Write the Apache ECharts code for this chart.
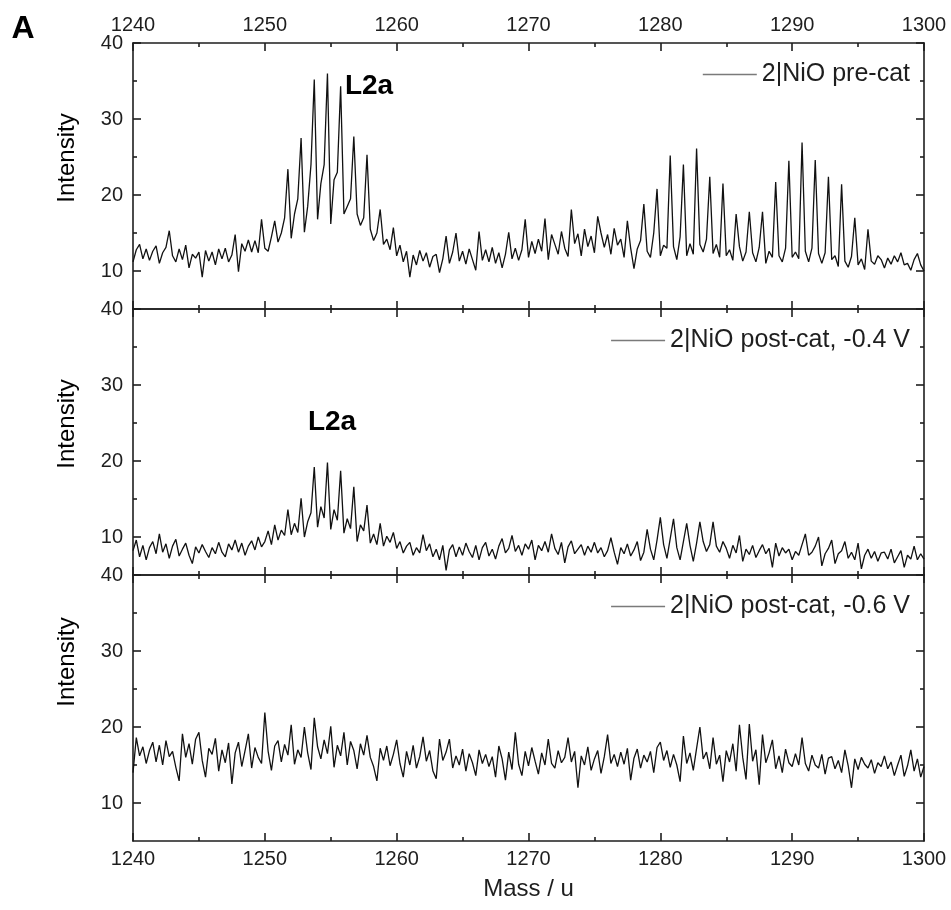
<!DOCTYPE html>
<html><head><meta charset="utf-8">
<script src="https://cdn.jsdelivr.net/npm/echarts@6/dist/echarts.min.js"></script>
<style>html,body{margin:0;padding:0;background:#fff}#chart{width:951px;height:910px}</style>
</head><body><div id="chart"></div>
<script>
// ---- data ----
const MASS_START = 1240;
const MASS_STEP = 0.25;
const MASS_MIN = 1240, MASS_MAX = 1300, MASS_TICK = 10;
const INT_MIN = 5, INT_MAX = 40;
const yMajorTicks = [10, 20, 30, 40];
const yMinorTicks = [15, 25, 35];
const seriesNames = ['2|NiO pre-cat', '2|NiO post-cat, -0.4 V', '2|NiO post-cat, -0.6 V'];
const peakLabel = 'L2a';

const preCat = [
11.2,12.8,13.5,11.6, 12.9,11.4,12.6,13.3, 11.0,12.4,13.1,15.3, 12.0,11.2,12.9,11.5,
13.4,10.4,12.2,11.7, 12.5,9.2,12.7,11.3, 12.5,10.8,12.9,11.6, 13.0,11.2,12.1,14.8,
9.9,13.6,12.6,14.1, 12.5,14.0,12.4,16.8, 13.0,12.6,14.5,16.6, 13.8,15.0,17.0,23.4,
14.3,17.5,19.5,27.5, 15.1,18.5,24.0,35.2, 16.8,21.5,24.0,36.0, 16.2,22.0,23.0,34.3,
17.5,18.5,19.5,27.7, 17.5,16.0,17.0,25.3, 15.5,14.0,15.0,18.1, 13.5,14.2,12.8,15.7,
12.0,13.4,11.2,12.6, 9.2,12.1,10.8,12.7, 11.3,12.4,10.5,11.9, 12.2,9.8,11.6,14.6,
11.0,12.5,15.0,11.3, 12.6,10.9,12.9,11.5, 10.1,15.2,11.4,12.8, 11.2,13.1,11.0,12.4,
10.4,12.2,15.1,11.6, 13.0,11.4,12.8,16.8, 11.8,13.9,12.3,14.2, 12.6,16.9,11.5,14.8,
13.5,12.2,15.2,13.0, 11.9,18.1,13.6,14.9, 12.0,15.5,13.2,14.6, 12.4,17.2,15.0,13.1,
14.8,12.2,15.6,13.4, 14.2,11.8,16.6,13.0, 10.3,12.9,14.0,18.8, 12.6,11.8,15.0,20.8,
12.0,13.4,13.0,25.2, 13.2,11.5,14.5,24.0, 12.0,13.6,12.2,26.1, 13.5,12.5,14.2,22.4,
12.3,13.5,11.8,21.5, 12.0,12.8,11.4,17.5, 13.2,11.3,12.5,17.8, 12.4,11.2,13.1,17.8,
11.0,12.6,11.8,21.7, 12.0,11.2,13.0,24.5, 11.8,12.5,11.6,26.9, 12.6,11.2,13.0,24.6,
12.3,11.0,12.4,22.4, 11.5,12.0,10.6,21.4, 11.3,10.5,11.9,17.0, 10.8,11.6,10.2,15.5,
11.3,10.9,12.0,11.5, 10.4,11.7,10.9,12.0, 11.2,12.4,10.8,11.0, 10.1,11.5,12.3,10.8,
10.0
];

const postCat04 = [
8.2,9.6,7.4,8.9, 7.0,8.6,9.4,7.8, 10.4,8.0,9.1,7.2, 8.8,9.7,7.5,8.4,
9.2,7.6,6.5,8.7, 7.9,9.0,8.1,7.3, 8.6,7.8,9.3,8.0, 7.4,9.1,8.3,9.6,
8.0,9.2,7.6,8.8, 9.5,8.3,10.0,8.7, 9.4,10.8,9.0,11.6, 9.6,10.9,10.2,13.6,
10.3,11.8,10.6,15.1, 10.0,12.0,13.2,19.2, 11.3,14.0,12.5,19.8, 11.0,13.6,12.2,18.7,
10.5,12.4,11.1,16.6, 9.4,11.6,10.8,14.2, 9.2,10.4,9.0,11.8, 8.8,10.1,9.3,10.6,
8.5,9.4,7.9,8.8, 9.3,7.6,8.6,7.9, 10.3,8.2,9.1,7.4, 8.4,7.0,8.9,5.6,
8.3,9.0,7.4,8.7, 7.6,9.2,8.1,7.3, 8.9,7.0,8.6,9.3, 7.5,8.4,7.1,8.8,
9.8,7.9,8.5,10.2, 8.1,8.9,7.6,9.1, 8.4,9.6,7.0,8.9, 8.2,9.4,8.0,10.4,
8.5,7.7,9.3,6.6, 8.7,9.5,7.8,8.4, 9.0,7.6,8.8,8.0, 9.3,7.9,8.6,7.4,
8.2,9.9,8.0,6.4, 8.6,7.8,9.1,7.5, 8.3,9.4,6.9,8.0, 11.0,8.4,7.0,9.6,
12.6,9.0,7.2,9.8, 12.4,8.6,7.0,9.4, 11.8,8.9,6.8,9.2, 12.0,9.4,8.1,9.0,
12.0,8.8,8.0,9.4, 8.5,7.2,8.9,7.9, 10.2,6.8,8.4,7.7, 8.9,7.3,8.2,9.0,
7.8,8.5,6.0,9.2, 7.5,8.6,7.9,8.4, 7.0,8.1,7.6,9.0, 10.4,7.6,8.0,8.8,
10.0,6.2,7.8,8.5, 9.6,6.5,7.8,8.2, 9.4,7.2,8.0,7.0, 9.2,5.8,7.6,8.4,
7.2,8.1,6.8,7.9, 8.0,7.1,8.4,6.6, 7.4,8.2,6.0,7.6, 7.1,8.8,7.0,7.8,
7.1
];

const postCat06 = [
14.0,18.6,16.2,17.4, 15.2,16.9,18.0,15.4, 17.6,15.0,18.2,16.1, 16.8,14.7,12.9,19.1,
16.0,17.8,15.1,18.4, 19.3,15.6,13.4,17.2, 16.4,18.5,14.2,17.0, 15.3,17.9,12.5,16.6,
18.0,14.8,16.9,19.1, 14.6,17.3,16.0,15.2, 21.9,16.8,14.3,17.5, 18.2,15.4,17.7,16.3,
20.3,15.1,17.0,16.0, 20.0,16.6,14.4,21.2, 17.4,15.8,18.3,16.5, 20.1,14.7,17.6,16.2,
19.3,15.0,18.1,16.9, 14.5,17.8,16.3,18.9, 16.0,14.8,12.9,17.2, 15.6,17.5,14.9,16.4,
18.3,15.2,13.4,16.8, 15.0,17.6,14.6,16.1, 18.7,15.5,16.9,14.2, 13.2,18.4,15.6,16.7,
18.4,14.6,16.2,15.0, 17.1,14.2,16.5,15.3, 13.6,17.0,15.2,16.4, 14.8,16.1,13.4,17.5,
15.8,13.0,16.7,14.4, 19.3,15.1,13.6,16.8, 14.9,17.3,15.5,13.8, 16.6,15.0,18.4,15.2,
14.6,16.9,15.3,16.0, 18.6,15.4,16.8,12.0, 16.2,15.0,17.4,14.3, 15.8,16.9,13.9,16.1,
19.0,15.2,16.4,14.8, 16.7,15.1,17.2,13.0, 15.9,17.1,14.6,16.3, 15.4,16.8,14.0,17.3,
18.0,15.6,16.9,14.7, 16.4,15.0,12.8,18.8, 15.2,16.6,14.3,17.2, 20.0,15.8,16.7,14.5,
18.6,15.1,16.3,12.8, 16.9,15.4,17.8,14.2, 20.3,16.0,13.1,20.4, 15.5,17.0,12.4,19.0,
15.3,16.6,18.3,14.5, 16.2,14.0,17.1,15.3, 14.8,16.5,15.0,18.6, 15.2,14.2,16.3,15.0,
14.6,16.4,13.8,15.9, 16.1,14.5,15.6,14.0, 17.0,14.9,12.0,15.8, 14.4,16.0,15.1,14.6,
15.7,13.9,15.3,14.8, 16.2,14.5,15.4,13.6, 15.0,16.3,13.5,14.9, 17.0,14.2,15.8,13.4,
14.8
];

// ---- chart ----
const FONT = "'Liberation Sans', Arial, sans-serif";
const INK = '#1e1e1e';
const GRID_TOPS = [43, 309, 575];
const GRID_H = 266;
const allSeries = [preCat, postCat04, postCat06];

const toPairs = arr => arr.map((v, i) => [MASS_START + i * MASS_STEP, v]);

const axisLineStyle = { color: INK, width: 1.6 };
const grids = GRID_TOPS.map(t => ({ left: 133, width: 791, top: t, height: GRID_H, outerBoundsMode: 'none', containLabel: false }));

const xAxes = [];
const yAxes = [];
const series = [];
const legends = [];

GRID_TOPS.forEach((t, g) => {
  ['bottom', 'top'].forEach(pos => {
    const showLabel = (pos === 'top' && g === 0) || (pos === 'bottom' && g === 2);
    const ax = {
      type: 'value', gridIndex: g, position: pos,
      min: MASS_MIN, max: MASS_MAX, interval: MASS_TICK,
      axisLine: { show: true, onZero: false, lineStyle: axisLineStyle },
      axisTick: { show: true, inside: true, length: 8, lineStyle: axisLineStyle },
      minorTick: { show: true, splitNumber: 2, length: 4, lineStyle: axisLineStyle },
      splitLine: { show: false }, minorSplitLine: { show: false },
      axisLabel: { show: showLabel, fontSize: 20, fontFamily: FONT, color: INK, margin: 8, formatter: v => String(v) }
    };
    if (pos === 'bottom' && g === 2) {
      ax.name = 'Mass / u';
      ax.nameLocation = 'middle';
      ax.nameGap = 36;
      ax.nameTextStyle = { fontSize: 24, fontFamily: FONT, color: INK };
    }
    xAxes.push(ax);
  });
  ['left', 'right'].forEach(pos => {
    yAxes.push({
      type: 'value', gridIndex: g, position: pos,
      min: INT_MIN, max: INT_MAX, interval: 5,
      axisLine: { show: true, onZero: false, lineStyle: axisLineStyle },
      axisTick: { show: true, inside: true, length: 8, customValues: yMajorTicks, lineStyle: axisLineStyle },
      splitLine: { show: false },
      axisLabel: { show: pos === 'left', customValues: yMajorTicks, fontSize: 20, fontFamily: FONT, color: INK, margin: 10, formatter: v => String(v) }
    });
    yAxes.push({
      type: 'value', gridIndex: g, position: pos,
      min: INT_MIN, max: INT_MAX, interval: 5,
      axisLine: { show: false },
      axisTick: { show: true, inside: true, length: 4, customValues: yMinorTicks, lineStyle: axisLineStyle },
      splitLine: { show: false },
      axisLabel: { show: false }
    });
  });
  series.push({
    name: seriesNames[g], type: 'line',
    xAxisIndex: 2 * g, yAxisIndex: 4 * g,
    data: toPairs(allSeries[g]),
    showSymbol: false, symbol: 'none',
    lineStyle: { color: '#111111', width: 1.3 },
    itemStyle: { color: '#111111' },
    animation: false
  });
  legends.push({
    data: [{ name: seriesNames[g], icon: 'rect', itemStyle: { color: '#7a7a7a' } }],
    right: 41, top: t + 19, padding: 0,
    itemWidth: 54, itemHeight: 1.5,
    selectedMode: false,
    textStyle: { fontSize: 25, fontFamily: FONT, color: INK }
  });
});

const textStyle = (txt, size, bold) => ({ text: txt, font: (bold ? 'bold ' : '') + size + 'px ' + FONT, fill: '#000', textAlign: 'center', textVerticalAlign: 'middle' });

const graphics = [
  { type: 'text', x: 23, y: 29, style: textStyle('A', 32, true) },
  { type: 'text', x: 369, y: 86, style: textStyle(peakLabel, 28, true) },
  { type: 'text', x: 332, y: 422, style: textStyle(peakLabel, 28, true) },
  { type: 'text', x: 67, y: 158, rotation: Math.PI / 2, style: textStyle('Intensity', 24, false) },
  { type: 'text', x: 67, y: 424, rotation: Math.PI / 2, style: textStyle('Intensity', 24, false) },
  { type: 'text', x: 67, y: 662, rotation: Math.PI / 2, style: textStyle('Intensity', 24, false) }
];

const chart = echarts.init(document.getElementById('chart'), null, { renderer: 'canvas' });
chart.setOption({
  backgroundColor: '#ffffff',
  animation: false,
  grid: grids,
  xAxis: xAxes,
  yAxis: yAxes,
  legend: legends,
  series: series,
  graphic: graphics
});
</script></body></html>
